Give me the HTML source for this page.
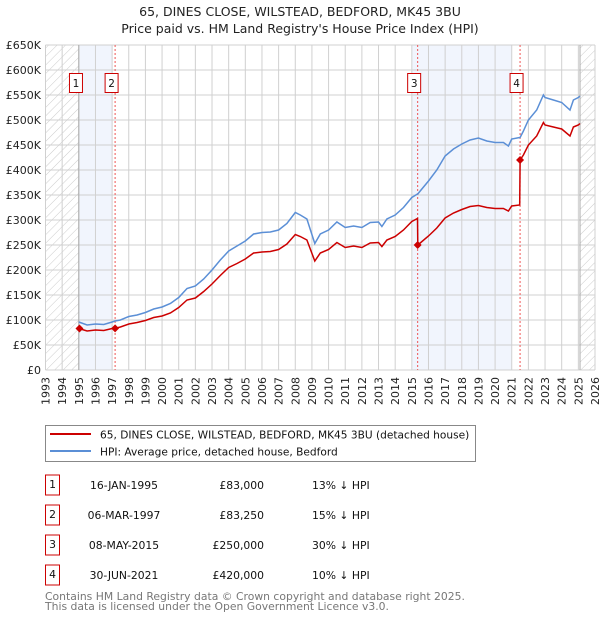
<!DOCTYPE html>
<html><head><meta charset="utf-8">
<style>
body{margin:0;background:#fff;}
svg{display:block;font-family:"DejaVu Sans","Liberation Sans",sans-serif;}
</style></head>
<body>
<svg id="chart" width="600" height="620" viewBox="0 0 600 620">
<text x="300" y="16" text-anchor="middle" font-size="12.5" fill="#222">65, DINES CLOSE, WILSTEAD, BEDFORD, MK45 3BU</text>
<text x="300" y="33" text-anchor="middle" font-size="12.5" fill="#222">Price paid vs. HM Land Registry's House Price Index (HPI)</text>
<defs>
<pattern id="hatch" width="6" height="6" patternUnits="userSpaceOnUse" patternTransform="rotate(45)">
<line x1="0" y1="0" x2="0" y2="6" stroke="#ccc" stroke-width="1"/>
</pattern>
</defs>
<g id="plot"></g>
<g>
<rect x="45.5" y="425.5" width="430" height="36" fill="#fff" stroke="#888"/>
<line x1="50" y1="434" x2="91" y2="434" stroke="#cc0000" stroke-width="2"/>
<text x="100" y="438.5" font-size="10.6" fill="#111">65, DINES CLOSE, WILSTEAD, BEDFORD, MK45 3BU (detached house)</text>
<line x1="50" y1="451" x2="91" y2="451" stroke="#5b8fd6" stroke-width="2"/>
<text x="100" y="455.5" font-size="10.6" fill="#111">HPI: Average price, detached house, Bedford</text>
</g>
<g id="table" font-size="10.8" fill="#111"></g>
<text x="45" y="600" font-size="10.8" fill="#777">Contains HM Land Registry data © Crown copyright and database right 2025.</text>
<text x="45" y="610" font-size="10.8" fill="#777">This data is licensed under the Open Government Licence v3.0.</text>
</svg>
<script>
const years = [1995.0,1995.5,1996,1996.5,1997,1997.18,1997.5,1998,1998.5,1999,1999.5,2000,2000.5,2001,2001.5,2002,2002.5,2003,2003.5,2004,2004.5,2005,2005.5,2006,2006.5,2007,2007.5,2008,2008.3,2008.7,2009.17,2009.5,2010,2010.5,2011,2011.5,2012,2012.5,2013,2013.2,2013.5,2014,2014.5,2015,2015.34,2015.36,2015.5,2016,2016.5,2017,2017.5,2018,2018.5,2019,2019.5,2020,2020.5,2020.8,2021,2021.48,2021.5,2021.7,2022,2022.5,2022.9,2023,2023.5,2024,2024.5,2024.7,2025,2025.1];
const hpiValues = [96,90,92,91,96,98,100,107,110,115,122,126,133,145,163,168,182,200,220,238,248,258,272,275,276,280,293,315,310,302,253,272,280,296,285,288,285,295,296,287,302,310,325,345,352,352,358,378,400,428,442,452,460,464,458,455,455,448,462,465,465,478,500,520,550,545,540,535,520,540,545,548];
const priceValues = [83,78,80,79,83,83.25,86,92,95,99,105,108,114,125,140,144,157,172,189,205,213,222,234,236,237,241,252,271,267,260,218,234,241,255,245,248,245,254,255,247,260,267,280,297,303,250,254,268,284,304,314,321,327,329,325,323,323,318,328,330,420,430,450,468,495,490,486,482,468,486,490,493];
const saleYears = [1995.04,1997.18,2015.35,2021.5];
const salePrices = [83,83.25,250,420];
const saleLabels = ["1","2","3","4"];
const saleDates = ["16-JAN-1995","06-MAR-1997","08-MAY-2015","30-JUN-2021"];
const salePriceText = ["£83,000","£83,250","£250,000","£420,000"];
const saleHpiText = ["13% ↓ HPI","15% ↓ HPI","30% ↓ HPI","10% ↓ HPI"];
const yTicks = [0,50,100,150,200,250,300,350,400,450,500,550,600,650];
const yTickLabels = ["£0","£50K","£100K","£150K","£200K","£250K","£300K","£350K","£400K","£450K","£500K","£550K","£600K","£650K"];

const NS="http://www.w3.org/2000/svg";
const X0=45.5,X1=595,Y0=370,Y1=45;
const xS=y=>X0+(y-1993)/(2026-1993)*(X1-X0);
const yS=v=>Y0-(v/650)*(Y0-Y1);
const plot=document.getElementById('plot');
function mk(tag,attrs,parent){const e=document.createElementNS(NS,tag);for(const k in attrs)e.setAttribute(k,attrs[k]);(parent||plot).appendChild(e);return e;}

let e;
e=mk('rect',{x:xS(1993),y:Y1,width:xS(1995)-xS(1993),height:Y0-Y1,fill:'url(#hatch)'});


e=mk('rect',{x:xS(2025.1),y:Y1,width:xS(2026)-xS(2025.1),height:Y0-Y1,fill:'url(#hatch)'});


e=mk('rect',{x:xS(1995),y:Y1,width:xS(1997)-xS(1995),height:Y0-Y1,fill:'#eef3fc',opacity:0.8});


e=mk('rect',{x:xS(2015),y:Y1,width:xS(2021)-xS(2015),height:Y0-Y1,fill:'#eef3fc',opacity:0.8});



for(let yr=1993;yr<=2026;yr++){
  e=mk('line',{x1:xS(yr),x2:xS(yr),y1:Y1,y2:Y0,stroke:'#d0d0d0','stroke-width':1});
  
  
  e=mk('text',{x:0,y:0,'font-size':11,fill:'#222','text-anchor':'end',transform:`translate(${xS(yr)+4},377) rotate(-90)`});
  e.textContent=String(yr);
  
  
}
yTicks.forEach((v,i)=>{
  e=mk('line',{x1:X0,x2:X1,y1:yS(v),y2:yS(v),stroke:'#d0d0d0','stroke-width':1});
  
  
  e=mk('text',{x:41,y:yS(v)+4,'font-size':11,fill:'#222','text-anchor':'end'});
  e.textContent=yTickLabels[i];
  
  
});
e=mk('line',{x1:xS(1995),x2:xS(1995),y1:Y1,y2:Y0,stroke:'#aaa','stroke-width':1});


e=mk('line',{x1:xS(2025.1),x2:xS(2025.1),y1:Y1,y2:Y0,stroke:'#aaa','stroke-width':1});



saleYears.forEach((sy,i)=>{
  if(i>0){
    e=mk('line',{x1:xS(sy),x2:xS(sy),y1:Y1,y2:Y0,stroke:'#ee5555','stroke-width':1,'stroke-dasharray':'2,2'});
    
    
  }
  const g=mk('g',{});
  
  
  mk('rect',{x:xS(sy)-10,y:73.5,width:13,height:19,fill:'#fff',stroke:'#cc0000'},g);
  const t=mk('text',{x:xS(sy)-3.5,y:87,'font-size':10.5,'text-anchor':'middle',fill:'#111'},g);
  t.textContent=saleLabels[i];
});

const linePath=(vals)=>vals.map((v,i)=>(i?'L':'M')+xS(years[i]).toFixed(1)+','+yS(v).toFixed(1)).join('');
e=mk('path',{d:linePath(hpiValues),fill:'none',stroke:'#5b8fd6','stroke-width':1.5});


e=mk('path',{d:linePath(priceValues),fill:'none',stroke:'#cc0000','stroke-width':1.5});


saleYears.forEach((sy,i)=>{
  const cx=xS(sy),cy=yS(salePrices[i]);
  e=mk('path',{d:`M${cx-4},${cy}L${cx},${cy-4}L${cx+4},${cy}L${cx},${cy+4}Z`,fill:'#cc0000'});
  
  
});

const tbl=document.getElementById('table');
saleLabels.forEach((lb,i)=>{
  const cy=485+i*30;
  e=mk('rect',{x:45.5,y:cy-10,width:14,height:20,fill:'#fff',stroke:'#cc0000'},tbl);
  
  
  e=mk('text',{x:52.5,y:cy+3,'text-anchor':'middle'},tbl);e.textContent=lb;
  
  
  e=mk('text',{x:124,y:cy+4,'text-anchor':'middle'},tbl);e.textContent=saleDates[i];
  
  
  e=mk('text',{x:264,y:cy+4,'text-anchor':'end'},tbl);e.textContent=salePriceText[i];
  
  
  e=mk('text',{x:312,y:cy+4},tbl);e.textContent=saleHpiText[i];
  
  
});
</script>
</body></html>
